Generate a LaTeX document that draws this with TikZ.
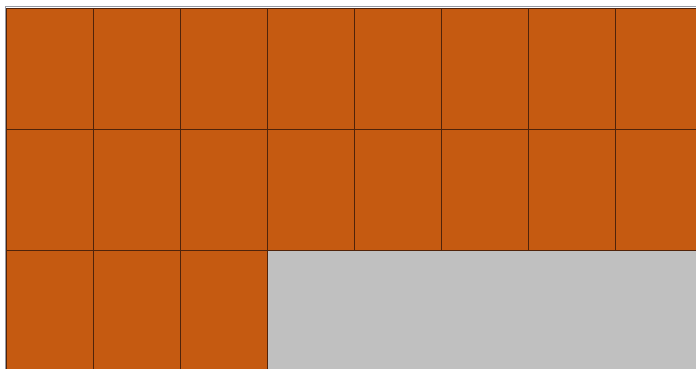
\documentclass[tikz,border=0pt]{standalone}
\definecolor{tileorange}{RGB}{197,90,17}
\definecolor{tileline}{RGB}{80,35,10}
\definecolor{floorgray}{RGB}{192,192,192}
\definecolor{rimgray}{RGB}{150,155,165}

\begin{document}
\begin{tikzpicture}[x=1pt, y=-1pt]
  \useasboundingbox (0,0) rectangle (696,369);
  \clip (0,0) rectangle (696,369);

  % bare floor (not yet tiled)
  \fill[floorgray] (266.5,250.5) rectangle (696,369);

  % two full rows of tiles
  \foreach \row in {0,1}
    \foreach \col in {0,...,7}
      \draw[fill=tileorange, draw=tileline, line width=0.9pt]
        (6+87*\col, 8+121*\row) rectangle ++(87,121);

  % third row, only three tiles
  \foreach \col in {0,1,2}
    \draw[fill=tileorange, draw=tileline, line width=0.9pt]
      (6+87*\col, 250) rectangle ++(87,121);

  % rim on top and left
  \draw[rimgray, line width=1.8pt] (5.5,369) -- (5.5,6.5) -- (696,6.5);
\end{tikzpicture}
\end{document}
